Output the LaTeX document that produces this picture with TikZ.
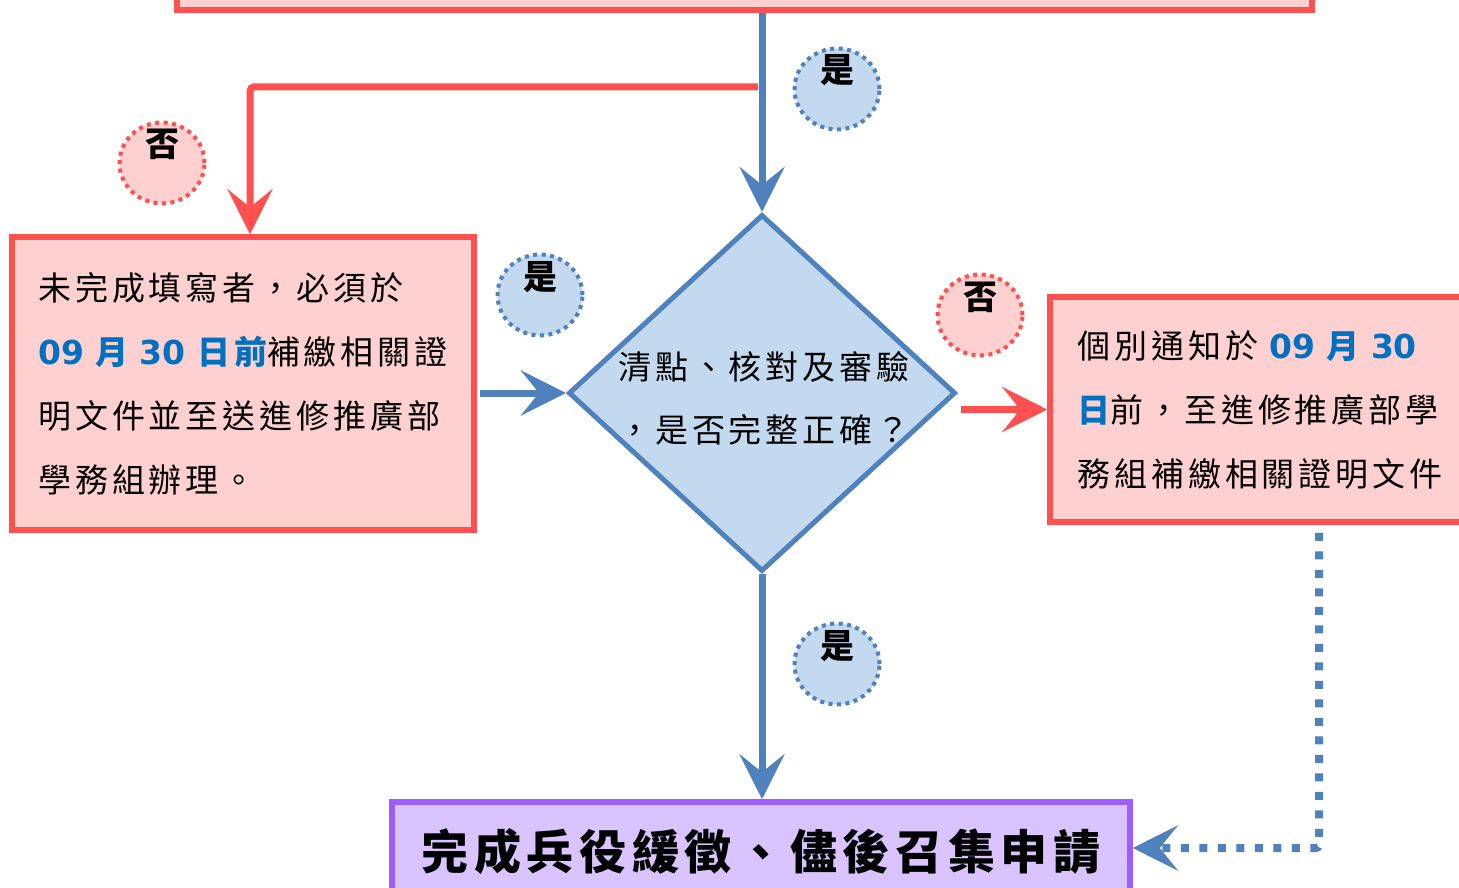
\documentclass[tikz,border=0pt]{standalone}
\usepackage{fontspec}
\usepackage{tikz}
\usetikzlibrary{arrows.meta}
\usetikzlibrary{shapes.geometric}
\newfontfamily\cjk[LetterSpace=12]{Noto Sans CJK TC}
\newfontfamily\numfont{DejaVu Sans}
\definecolor{boxred}{RGB}{255,80,80}
\definecolor{boxpink}{RGB}{255,208,208}
\definecolor{flowblue}{RGB}{79,129,189}
\definecolor{paleblue}{RGB}{194,217,239}
\definecolor{boxpurple}{RGB}{160,92,255}
\definecolor{lavender}{RGB}{217,196,255}
\definecolor{dateblue}{RGB}{0,112,192}
\newcommand{\datenum}[1]{\textcolor{dateblue}{\numfont\bfseries #1}}
\newcommand{\datechar}[1]{\textcolor{dateblue}{\bfseries #1}}
\newcommand{\marktext}[1]{\raisebox{6pt}[0pt][0pt]{#1}}

\begin{document}
\begin{tikzpicture}[x=1pt, y=-1pt,
    redbox/.style = {draw=boxred, fill=boxpink, line width=5.5pt, inner sep=0pt,
        align=left, font=\cjk\fontsize{33}{64}\selectfont},
    decision/.style = {diamond, draw=flowblue, fill=paleblue, line width=5pt, inner sep=0pt},
    donebox/.style = {draw=boxpurple, fill=lavender, line width=5.5pt, inner sep=0pt,
        font=\cjk\fontsize{47}{47}\selectfont\bfseries},
    yesmark/.style = {ellipse, draw=flowblue, fill=paleblue, line width=4pt,
        dash pattern=on 4pt off 4.5pt, minimum width=85pt, minimum height=81pt,
        inner sep=0pt, font=\cjk\fontsize{34}{34}\selectfont\bfseries},
    nomark/.style = {yesmark, draw=boxred, fill=boxpink},
    bluearrow/.style = {draw=flowblue, line width=7pt, -{Stealth[length=45pt, width=45pt, inset=18pt]}},
    redarrow/.style = {draw=boxred, line width=7pt, -{Stealth[length=45pt, width=45pt, inset=18pt]}},
    dotarrow/.style = {draw=flowblue, line width=8pt, dash pattern=on 8pt off 10.5pt,
        -{Stealth[length=45pt, width=45pt, inset=18pt]}}]
    \useasboundingbox (0,0) rectangle (1459,888);
    \clip (0,0) rectangle (1459,888);

    \node[redbox, minimum width=1135pt, minimum height=80pt] (apply) at (744.5,-30) {};
    \node[decision, minimum width=387pt, minimum height=357pt] (check) at (762,393) {};
    \node[align=center, font=\cjk\fontsize{33}{63}\selectfont] (checktext) at (764,398)
        {清點、核對及審驗\\，是否完整正確？};
    \node[redbox, minimum width=462pt, minimum height=293pt] (late) at (243,383.5)
        {未完成填寫者，必須於\\
         \datenum{09} \datechar{月} \datenum{30} \datechar{日前}補繳相關證\\
         明文件並至送進修推廣部\\
         學務組辦理。};
    \node[redbox, minimum width=420pt, minimum height=225pt] (notify) at (1260,409.5)
        {個別通知於 \datenum{09} \datechar{月} \datenum{30}\\
         \datechar{日}前，至進修推廣部學\\
         務組補繳相關證明文件};
    \node[donebox, minimum width=738pt, minimum height=100pt] (done) at (761,852)
        {完成兵役緩徵、儘後召集申請};

    % connectors
    \coordinate (split) at (758,87);
    \draw[redarrow, rounded corners=4pt] (split) -| ([xshift=7pt]late.north);
    \draw[bluearrow] (apply.south -| check.north) -- (check.north);
    \draw[bluearrow] ([xshift=3pt]late.east |- check.west) -- (check.west);
    \draw[redarrow] ([xshift=3pt]check.east |- notify.west) -- (notify.west);
    \draw[bluearrow] (check.south) -- (check.south |- done.north);
    \draw[dotarrow, rounded corners=3pt] ([xshift=59pt,yshift=-8pt]notify.south) |- ([yshift=4pt]done.east);

    % yes / no marks
    \node[yesmark] (yestop) at (837,89) {\marktext{是}};
    \node[nomark] (noleft) at (162,163) {\marktext{否}};
    \node[yesmark] (yesleft) at (540,295) {\marktext{是}};
    \node[nomark] (noright) at (980,315) {\marktext{否}};
    \node[yesmark] (yesdown) at (837,664) {\marktext{是}};
\end{tikzpicture}
\end{document}
